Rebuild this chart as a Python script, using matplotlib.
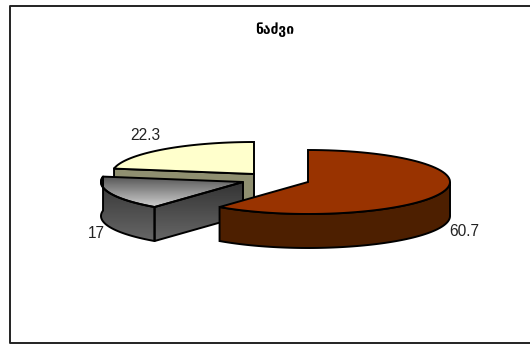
import matplotlib
matplotlib.use("Agg")
import matplotlib.pyplot as plt
from matplotlib.colors import LinearSegmentedColormap
from matplotlib.patches import Polygon
import numpy as np

title = "ნაძვი"
values = [60.7, 17, 22.3]
labels = ["60.7", "17", "22.3"]
top_colors = ["#993300", None, "#FFFFCC"]

# ellipse of the pie in pixels, each slice has its own exploded centre
rx, ry, depth = 142, 32, 34
centers = [(308, 182), (243, 182), (254, 174)]
label_pos = [(464, 231), (96, 234), (145, 135)]


def arc(center, start, end, dy=0, n=80):
    # angles in percent, clockwise from 12 o'clock
    a = np.radians(np.linspace(start, end, n) * 3.6)
    return np.column_stack([center[0] + rx * np.sin(a), center[1] - ry * np.cos(a) + dy])


def gradient(ax, pts, c_top, c_bottom):
    # vertical gradient clipped to a polygon
    poly = Polygon(pts, closed=True, fc="none", ec="black", lw=1.4, zorder=3, joinstyle="round")
    ax.add_patch(poly)
    cmap = LinearSegmentedColormap.from_list("g", [c_top, c_bottom])
    x0, y0 = pts.min(axis=0)
    x1, y1 = pts.max(axis=0)
    im = ax.imshow(np.linspace(0, 1, 64).reshape(-1, 1), cmap=cmap, aspect="auto",
                   extent=(x0, x1, y1, y0), zorder=2)
    im.set_clip_path(poly)


fig = plt.figure(figsize=(5.3, 3.45), dpi=100)
ax = fig.add_axes([0, 0, 1, 1])
ax.set_xlim(0, 530)
ax.set_ylim(345, 0)
ax.axis("off")

# chart frame runs off the right side of the picture
ax.plot([531, 10, 10, 531], [5.5, 5.5, 343, 343], color="#222222", lw=1.4, zorder=1)

# the slices run clockwise from 12 o'clock: red, gray, yellow
edges = np.concatenate([[0], np.cumsum(values)])

# yellow slice
c = centers[2]
outer = arc(c, edges[2], edges[3])
left = outer[0]
face = np.array([c, left, left + [0, depth], np.array(c) + [0, depth]])
ax.add_patch(Polygon(face, closed=True, fc="#8F8F70", ec="black", lw=1.4, zorder=1.5))
ax.add_patch(Polygon(np.vstack([[c], outer]), closed=True, fc=top_colors[2], ec="black", lw=1.4, zorder=1.6))

# gray slice
c = centers[1]
outer = arc(c, edges[1], edges[2])
side = np.vstack([outer, outer[::-1] + [0, depth]])
gradient(ax, side, "#333333", "#666666")
cut = np.array([c, outer[0], outer[0] + [0, depth], np.array(c) + [0, depth]])
gradient(ax, cut, "#333333", "#666666")
gradient(ax, np.vstack([[c], outer]), "#555555", "#CFCFCF")

# red slice, only the front of the rim shows
c = centers[0]
outer = arc(c, 25, edges[1])
side = np.vstack([outer, outer[::-1] + [0, depth]])
ax.add_patch(Polygon(side, closed=True, fc="#4D1F00", ec="black", lw=1.4, zorder=4))
top = arc(c, edges[0], edges[1])
ax.add_patch(Polygon(np.vstack([[c], top]), closed=True, fc=top_colors[0], ec="black", lw=1.4, zorder=5))

for txt, (x, y) in zip(labels, label_pos):
    ax.text(x, y, txt, ha="center", va="center", fontsize=11.2, color="#222222",
            family="Liberation Sans", zorder=6)

ax.text(275, 29.5, title, ha="center", va="center", fontsize=10, fontweight="bold",
        color="black", family="DejaVu Sans", zorder=6)

fig.savefig("out.png", dpi=100)
